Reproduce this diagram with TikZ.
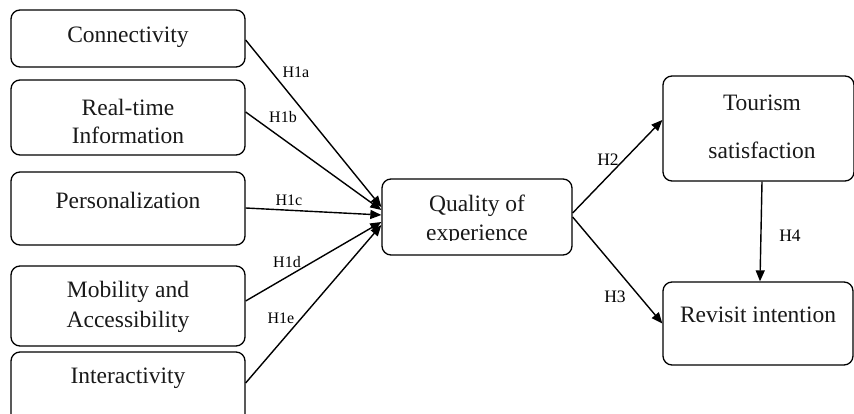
\documentclass[tikz,border=0pt]{standalone}
\usepackage{fontspec}
\setmainfont{Liberation Serif}
\usetikzlibrary{arrows.meta}
\begin{document}
\begin{tikzpicture}[x=1pt,y=1pt,
  box/.style={draw=black, line width=1.3pt, rounded corners=9pt, inner sep=0pt},
  txt/.style={font=\fontsize{23.5}{28}\selectfont, inner sep=0pt, text=black!90},
  hlab/.style={font=\fontsize{16}{18}\selectfont, inner sep=0pt},
  hlabb/.style={font=\fontsize{17.5}{20}\selectfont, inner sep=0pt},
  arr/.style={line width=1.4pt, -{Triangle[length=11pt,width=9pt]}}]
\useasboundingbox (0,0) rectangle (854,414);
% boxes
\node[box, minimum width=234pt, minimum height=57pt] (con) at (128,375.5) {};
\node[box, minimum width=234pt, minimum height=75pt] (rt) at (128,296.5) {};
\node[box, minimum width=234pt, minimum height=73pt] (per) at (128,205.5) {};
\node[box, minimum width=234pt, minimum height=80pt] (mob) at (128,108) {};
\node[box, minimum width=234pt, minimum height=73pt] (int) at (128,25.5) {};
\node[box, minimum width=190pt, minimum height=76pt] (qoe) at (477,197) {};
\node[box, minimum width=191pt, minimum height=105pt] (ts) at (758.5,285.5) {};
\node[box, minimum width=190pt, minimum height=83pt] (ri) at (758,90.5) {};
% texts
\node[txt] (tcon) at (128,377) {Connectivity};
\node[txt] (trt1) at (128,307) {Real-time};
\node[txt] (trt2) at (128,279) {Information};
\node[txt] (tper) at (128,214) {Personalization};
\node[txt] (tmob1) at (128,122) {Mobility and};
\node[txt] (tmob2) at (128,92) {Accessibility};
\node[txt] (tint) at (128,36) {Interactivity};
\node[txt] (tqoe1) at (477,208) {Quality of};
\begin{scope}
\clip (383,173.5) rectangle (571,230);
\node[txt] (tqoe2) at (477,179) {experience};
\end{scope}
\node[txt] (tts1) at (762,311) {Tourism};
\node[txt] (tts2) at (762,264) {satisfaction};
\node[txt] (tri) at (758,99) {Revisit intention};
% connectors
\draw[arr] ([yshift=-1.5pt]con.east) -- ([yshift=10pt]qoe.west);
\draw[arr] ([yshift=5.5pt]rt.east) -- ([yshift=7pt]qoe.west);
\draw[arr] ([yshift=0.5pt]per.east) -- ([yshift=2pt]qoe.west);
\draw[arr] ([yshift=5pt]mob.east) -- ([yshift=-5pt]qoe.west);
\draw[arr] ([yshift=5.5pt]int.east) -- ([yshift=-8pt]qoe.west);
\draw[arr] ([yshift=4pt]qoe.east) -- ([yshift=8.5pt]ts.west);
\draw[arr] (qoe.east) -- (ri.west);
\draw[arr] ([xshift=3.5pt]ts.south) -- ([xshift=2pt]ri.north);
% labels
\node[hlab] (l1a) at (296,342) {H1a};
\node[hlab] (l1b) at (283,297) {H1b};
\node[hlab] (l1c) at (289,214) {H1c};
\node[hlab] (l1d) at (287,152) {H1d};
\node[hlab] (l1e) at (281,96) {H1e};
\node[hlabb] (l2) at (608,254) {H2};
\node[hlabb] (l3) at (615,117) {H3};
\node[hlabb] (l4) at (790,178) {H4};
\end{tikzpicture}
\end{document}
